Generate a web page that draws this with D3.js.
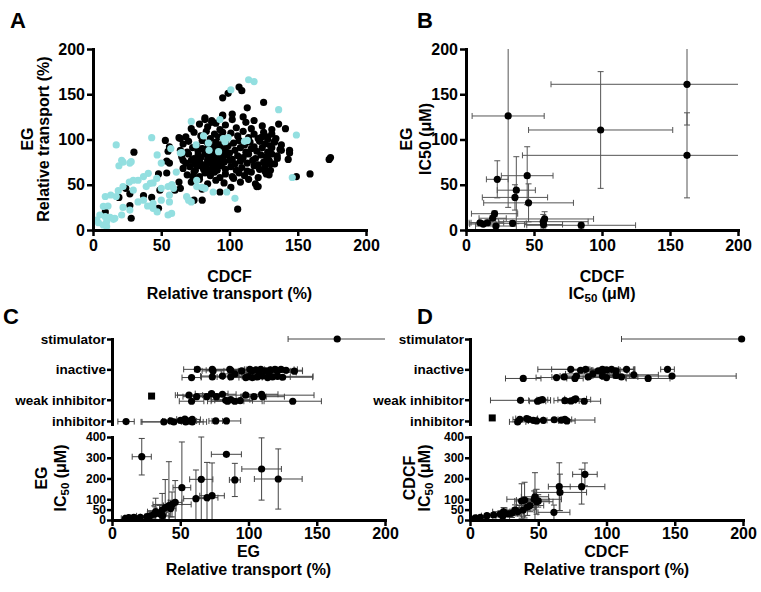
<!DOCTYPE html>
<html><head><meta charset="utf-8">
<script src="https://cdn.jsdelivr.net/npm/d3@7"></script>
<style>body{margin:0;background:#fff}</style>
</head><body><svg id="c" width="761" height="592"></svg>
<script>
const FONT = '"Liberation Sans", Arial, Helvetica, sans-serif';
// ---------- DATA ----------
const ticks200 = [0, 50, 100, 150, 200];
const ticksIC = [0, 50, 100, 200, 300, 400];
const categories = ["stimulator", "inactive", "weak inhibitor", "inhibitor"];
const catLevels = [4, 3, 2, 1.3];

// Panel A: [CDCF relative transport, EG relative transport]
const blackPts = [
[174,80],[173,78],[159,62],[149,59],[106,23],[120,48],[107,158],[109,154],[95,146],[99,151],[125,141],[113,135],[144,88],[144,85],[141,112],[136,117],
[30,86],[9,20],[28,13],[27,27],[24,46],[27,40],[19,36],[37,38],[43,36],[48,24],[49,44],[48,62],[54,63],[54,76],[53,99],[56,92],[55,87],[64,101],[63,53],[60,44],[64,46],[56,74],[66,77],[74,33],[80,33],[73,59],
[102,128],[82,122],[87,121],[95,127],[63,102],[131,91],[138,88],[135,82],[143,78],[128,79],[129,76],[130,73],[126,65],[129,61],[125,104],[128,100],[133,98],[123,102],
[82,124],[87,119],[95,126],[102,122],[110,125],[118,121],
[72,112],[78,117],[84,114],[90,118],[93,111],[97,116],[105,113],[112,119],[116,112],[124,115],[131,111],
[68,103],[74,108],[79,104],[83,109],[86,101],[89,106],[92,103],[95,108],[98,101],[101,107],[106,104],[110,109],[114,102],[118,106],[121,101],[125,108],[128,103],[131,106],[134,101],
[66,95],[70,98],[76,93],[80,99],[84,96],[87,92],[90,97],[93,94],[96,99],[99,93],[103,96],[107,99],[111,94],[115,97],[118,92],[122,98],[126,95],[130,93],[133,97],[138,94],
[64,88],[69,86],[73,91],[77,87],[80,90],[83,85],[86,89],[88,86],[91,91],[94,87],[97,90],[100,85],[104,88],[108,91],[112,86],[116,90],[120,87],[124,91],[128,86],[137,89],
[65,81],[70,84],[74,79],[77,83],[79,80],[82,84],[84,78],[87,82],[89,79],[92,84],[95,80],[98,83],[102,78],[106,82],[110,80],[114,84],[119,79],[123,83],[127,81],[131,84],[135,79],
[68,74],[72,77],[75,73],[78,76],[81,72],[84,75],[86,77],[88,73],[90,76],[93,72],[96,75],[100,77],[104,73],[108,76],[113,74],[117,77],[121,72],[125,75],[129,77],[133,73],
[66,68],[71,70],[75,66],[78,71],[81,67],[83,70],[85,65],[88,69],[91,66],[94,71],[97,67],[101,70],[105,66],[109,69],[113,65],[118,71],[122,67],[126,70],[130,66],
[69,61],[74,64],[78,59],[82,63],[86,60],[89,64],[93,58],[97,62],[102,59],[107,63],[111,60],[116,64],[121,58],[127,62],
[72,53],[78,56],[84,51],[90,55],[96,52],[103,57],[108,53],[114,56],[119,51],
[80,45],[93,42],[101,47],[121,48],
[85,80],[88,84],[90,82],[86,74],[92,78],[89,88],[84,90],[91,70],[87,67],[95,85]
];
const cyanPts = [
[114,166],[118,164],[101,155],[136,133],[149,105],[146,58],[104,35],[98,42],[88,42],[72,120],[93,122],[81,104],[84.5,96],[85,88],[95.5,101],[96.7,97.6],[99,102],[111,98],[113,99],[92,86.5],[65,85.5],[75.5,94],[61,64],[76,48],[82,46],[58,50],[59,46],
[17,94],[43,102],[21,77],[19,71],[28,75.5],[40.5,62.6],[37,59],[33,55],[29.5,55],[26.6,53],[46.7,57],[44,52],[42,51.6],[39,48],[22,48],[18.5,43.4],[17,37],[9,37],[13,38.7],[7.6,26],[11,26.5],[22,25],[27,22],[21,16.6],[5,16.6],[9,14.7],[12.5,14],[16,13],[2.7,11],[4,8],[10,9],[7.5,5.5],[15,11.8],[29.5,44],[33,31],[37,33],[40,26.5],[44,29.4],[50,33],[44,24],[47,20],[56,31],[57.6,18.3],[55,48],[57.6,50],[50,46],[56,38.7],[68.6,36.8],[70,33],[10,4],[47,83],[50,74],[57,90],[64,85],[22,75],[27,74],[72,31],[55,16.6],[80,47],[76,55]
];

// Panel B: [CDCF IC50, CDCF err, EG IC50, EG err]
const icPairs = [
[162.5,100,161,45],[162.5,121,82.5,47],[99,53,110.5,64.5],[31,26.5,126,101],[23,8,56,20.5],[45,19,60,32],[37,14,44,37],[36,24,36,14],[46,33,30,21],
[10.3,8,8,2],[12.7,10,6.6,2],[15.7,12,8,3],[19.6,10,13,3],[21,17,18,3],[22,15,4.4,2],[34.3,10,7.4,3],[56.8,33,9.2,8],[57.8,36,12.2,8],[84.7,40,5.2,3],[57,14,6,3]
];

// Panel C top: EG relative transport by class [value, err, offset]
const egStim = [[165,36,0]];
const egInactive = [[62.5,10,0],[73.5,13,0],[74,8,0.05],[86.3,12,0],[87,18,0.03],[95,10,0.05],[101,15,0],[102.5,10,0.05],[105.4,20,0.02],[109,12,0],[112.7,10,0.05],[116,8,0.02],[119.4,14,0],[121,10,0.05],[123.8,12,0],[127.5,12,0.03],[133.6,6,0.06],
[58.3,7,0.27],[73.5,8,0.25],[80.9,16,0.22],[87,10,0.25],[98,12,0.27],[100,14,0.24],[103,10,0.27],[106.6,9,0.25],[110.3,12,0.22],[114,10,0.27],[117.6,13,0.25],[121.3,26,0.23],[125,22,0.26],[90,10,0.15],[108,15,0.15],[115,20,0.1]];
const egWeak = [[56.4,10,-0.15],[58.3,9,0.05],[69.4,8,-0.1],[73,12,-0.2],[76.5,6,-0.1],[80.9,10,-0.18],[83.3,8,0.02],[84.6,12,0.05],[87,14,0],[93.9,9,0.03],[98,50,-0.15],[104,9,-0.1],[109.6,12,-0.18],[110.3,16,-0.1],[132.4,21,0.05],[62,10,-0.1],[90,20,0.05]];
const egWeakSquare = [[29,0,-0.12]];
const egInhib = [[10.3,6,0.02],[38,16,0.03],[43,6,0],[45.3,24,0.03],[50.2,8,-0.02],[53.4,6,-0.06],[54,10,0.03],[57,5,0],[58.8,8,0.03],[58.8,6,-0.05],[76,5,0],[83.8,10.5,0]];
// Panel C bottom: [EG relative transport, err, EG IC50, err]
const egIC = [
[21.8,7,305,88],[83.8,11,316.6,0],[109.6,14.5,245.8,150],[121.8,17.5,197.6,145],[90,4,193,80],[65.4,8.5,196,204],[51.2,6.5,156,220],[61.5,9,103,138],[69.6,8,107.5,170],[73.3,9,117,158],
[46.3,5,85,105],[44,14,75,60],[41.7,4,70,211],[39,4,60,135],[36.8,4,48,80],[32,6,40,65],[30.9,5,28,40],[37,5,20,20],[25.7,5,16,12],[20.8,4,13,8],[16,4,13,6],[12.3,3,11,5],[9.8,3,8,4],[43,4,55,40],[35,5,30,40],[28,10,20,25]
];

// Panel D top: CDCF relative transport by class
const cdStim = [[199,88,0]];
const cdInactive = [[73.8,14,0],[81,8,0.03],[84.7,35,0],[94,10,0.05],[97,12,0],[97.6,9,0.04],[100,10,0.02],[103.7,17,0],[107,8,0.05],[114.7,6,0],[144.7,5,0],
[39,13,0.3],[63.4,15,0.27],[69,9,0.25],[76.9,6,0.3],[78,12,0.22],[86.6,10,0.25],[97,8,0.22],[100,14,0.27],[107,10,0.2],[111,12,0.25],[130.5,16,0.3],[148,47,0.22],[90,20,0.15],[120,18,0.18]];
const cdWeak = [[37,22,0.02],[49.5,6,0.05],[51,8,0.02],[53,4,0],[69.5,8,0.03],[76.4,12,0],[77.4,8,-0.03],[83.7,12,0.05],[74,6,0.04]];
const cdInhibSquare = [[16.3,0,-0.1]];
const cdInhib = [[34.9,6,0.03],[36.5,5,-0.05],[41.5,8,-0.08],[43,6,-0.05],[46.4,10,-0.02],[48.8,6,0],[53.7,12,-0.02],[61.7,8,-0.04],[67,24.5,-0.03],[69.5,5,-0.05],[71,6,0]];
// Panel D bottom: [CDCF relative transport, err, CDCF IC50, err]
const cdIC = [
[84.2,9,220,55],[81.8,17,160.7,84],[65.4,8,160.7,115],[65.9,19.5,133,88],[61.5,11.7,37,35],[47.6,10,112,116],[48.8,12,88,60],[47,20,100,40],[40,6,96,86],[37.8,5,91.6,83],
[39,8,48,30],[33,6,48,25],[30.7,6,32,20],[24.6,8,40,20],[22.2,5,29,15],[17.3,5,24,10],[12.4,4,21,8],[7.6,3,13,6],[3.9,3,10,5],[24,5,19,10],[28,7,30,15],[44,10,70,30],[50,8,92,30],[42,6,62,40],[35,4,40,20]
];

// ---------- DRAWING ----------
const svg = d3.select("#c");
const CYAN = "#93dfe0";
const R = 3.6;

function styleAxis(g, fs) {
  g.attr("font-family", FONT).attr("font-size", fs).attr("font-weight", "bold");
  g.select(".domain").attr("stroke", "#000").attr("stroke-width", 3).attr("stroke-linecap", "square");
  g.selectAll(".tick line").attr("stroke", "#000").attr("stroke-width", 2.5);
  g.selectAll(".tick text").attr("fill", "#000");
}
function txt(x, y, parts, opts = {}) {
  const t = svg.append("text").attr("font-family", FONT).attr("font-weight", "bold")
    .attr("font-size", opts.fs || 16).attr("text-anchor", opts.anchor || "middle").attr("fill", "#000");
  if (opts.rot) t.attr("transform", `translate(${x},${y}) rotate(-90)`);
  else t.attr("x", x).attr("y", y);
  let sub = false;
  parts.forEach(p => {
    const isSub = Array.isArray(p);
    const s = t.append("tspan").text(isSub ? p[0] : p);
    if (isSub) { s.attr("font-size", "0.72em").attr("dy", "0.3em"); sub = true; }
    else if (sub) { s.attr("dy", "-0.216em"); sub = false; }
  });
  return t;
}
function hErr(g, xs, py, cx, err, color) {
  if (!err) return;
  const [d0, d1] = xs.domain();
  const lo = Math.max(d0, cx - err), hi = Math.min(d1, cx + err);
  g.append("line").attr("x1", xs(lo)).attr("x2", xs(hi)).attr("y1", py).attr("y2", py)
    .attr("stroke", color).attr("stroke-width", 1);
  [[lo, cx - err], [hi, cx + err]].forEach(([v, raw]) => {
    if (v === raw) g.append("line").attr("x1", xs(v)).attr("x2", xs(v)).attr("y1", py - 3).attr("y2", py + 3)
      .attr("stroke", color).attr("stroke-width", 1);
  });
}
function vErr(g, ys, px, cy, err, color) {
  if (!err) return;
  const [d0, d1] = ys.domain();
  const lo = Math.max(d0, cy - err), hi = Math.min(d1, cy + err);
  g.append("line").attr("y1", ys(lo)).attr("y2", ys(hi)).attr("x1", px).attr("x2", px)
    .attr("stroke", color).attr("stroke-width", 1);
  [[lo, cy - err], [hi, cy + err]].forEach(([v, raw]) => {
    if (v === raw) g.append("line").attr("y1", ys(v)).attr("y2", ys(v)).attr("x1", px - 3).attr("x2", px + 3)
      .attr("stroke", color).attr("stroke-width", 1);
  });
}

// Panel letters
txt(10, 28, ["A"], {fs: 22, anchor: "start"});
txt(417, 28, ["B"], {fs: 22, anchor: "start"});
txt(3, 324, ["C"], {fs: 22, anchor: "start"});
txt(417, 324, ["D"], {fs: 22, anchor: "start"});

// ---- Panel A ----
{
  const x = d3.scaleLinear().domain([0, 200]).range([93, 366]);
  const y = d3.scaleLinear().domain([0, 200]).range([230, 49]);
  const g = svg.append("g");
  g.selectAll("circle.b").data(blackPts).join("circle").attr("class", "b")
    .attr("cx", d => x(d[0])).attr("cy", d => y(d[1])).attr("r", R).attr("fill", "#000");
  g.selectAll("circle.c").data(cyanPts).join("circle").attr("class", "c")
    .attr("cx", d => x(d[0])).attr("cy", d => y(d[1])).attr("r", R).attr("fill", CYAN);
  svg.append("g").attr("transform", "translate(0,230)")
    .call(d3.axisBottom(x).tickValues(ticks200).tickSize(6).tickPadding(4).tickSizeOuter(0)).call(styleAxis, 16);
  svg.append("g").attr("transform", "translate(93,0)")
    .call(d3.axisLeft(y).tickValues(ticks200).tickSize(6).tickPadding(2).tickSizeOuter(0)).call(styleAxis, 16);
  txt(33, 139, ["EG"], {rot: true});
  txt(49, 139, ["Relative transport (%)"], {rot: true});
  txt(229.5, 282, ["CDCF"]);
  txt(229.5, 299, ["Relative transport (%)"]);
}

// ---- Panel B ----
{
  const x = d3.scaleLinear().domain([0, 200]).range([466, 738]);
  const y = d3.scaleLinear().domain([0, 200]).range([230, 49]);
  const g = svg.append("g");
  icPairs.forEach(d => {
    hErr(g, x, y(d[2]), d[0], d[1], "#555");
    vErr(g, y, x(d[0]), d[2], d[3], "#555");
  });
  g.selectAll("circle").data(icPairs).join("circle")
    .attr("cx", d => x(d[0])).attr("cy", d => y(d[2])).attr("r", R).attr("fill", "#000");
  svg.append("g").attr("transform", "translate(0,230)")
    .call(d3.axisBottom(x).tickValues(ticks200).tickSize(6).tickPadding(4).tickSizeOuter(0)).call(styleAxis, 16);
  svg.append("g").attr("transform", "translate(466,0)")
    .call(d3.axisLeft(y).tickValues(ticks200).tickSize(6).tickPadding(2).tickSizeOuter(0)).call(styleAxis, 16);
  txt(412, 139, ["EG"], {rot: true});
  txt(431, 139, ["IC50 (\u03bcM)"], {rot: true});
  txt(602, 282, ["CDCF"]);
  txt(602, 299, ["IC", ["50"], " (\u03bcM)"]);
}

// ---- Panels C & D ----
function classPanel(x0, cls, squares, icData, yT1, titleX) {
  const x = d3.scaleLinear().domain([0, 200]).range([x0, x0 + 273]);
  const yc = d3.scaleLinear().domain([1.2, 4]).range([424, 339]);
  const yi = d3.scaleLinear().domain([0, 400]).range([520, 437]);
  const g = svg.append("g");
  cls.forEach((arr, i) => {
    arr.forEach(d => hErr(g, x, yc(catLevels[i] - d[2]), d[0], d[1], "#444"));
  });
  cls.forEach((arr, i) => {
    g.selectAll(null).data(arr).join("circle")
      .attr("cx", d => x(d[0])).attr("cy", d => yc(catLevels[i] - d[2])).attr("r", R).attr("fill", "#000");
  });
  squares.forEach(([arr, i]) => {
    g.selectAll(null).data(arr).join("rect")
      .attr("x", d => x(d[0]) - 3.5).attr("y", d => yc(catLevels[i] - d[2]) - 3.5)
      .attr("width", 7).attr("height", 7).attr("fill", "#000");
  });
  icData.forEach(d => {
    hErr(g, x, yi(d[2]), d[0], d[1], "#444");
    vErr(g, yi, x(d[0]), d[2], d[3], "#444");
  });
  g.selectAll(null).data(icData).join("circle")
    .attr("cx", d => x(d[0])).attr("cy", d => yi(d[2])).attr("r", R).attr("fill", "#000");
  svg.append("g").attr("transform", `translate(${x0},0)`)
    .call(d3.axisLeft(yc).tickValues(catLevels).tickFormat((d, i) => categories[i]).tickSize(5).tickPadding(1).tickSizeOuter(0))
    .call(styleAxis, 13.5);
  svg.append("g").attr("transform", `translate(${x0},0)`)
    .call(d3.axisLeft(yi).tickValues(ticksIC).tickSize(5).tickPadding(1).tickSizeOuter(0)).call(styleAxis, 12);
  svg.append("g").attr("transform", "translate(0,520)")
    .call(d3.axisBottom(x).tickValues(ticks200).tickSize(6).tickPadding(2).tickSizeOuter(0)).call(styleAxis, 16);
  txt(titleX[0], 478, yT1, {rot: true});
  txt(titleX[1], 478, ["IC", ["50"], " (\u03bcM)"], {rot: true});
  txt(x0 + 136.5, 557, yT1);
  txt(x0 + 136.5, 575, ["Relative transport (%)"]);
}
classPanel(112, [egStim, egInactive, egWeak, egInhib], [[egWeakSquare, 2]], egIC, ["EG"], [47, 66]);
classPanel(470, [cdStim, cdInactive, cdWeak, cdInhib], [[cdInhibSquare, 3]], cdIC, ["CDCF"], [415, 430]);
</script></body></html>
